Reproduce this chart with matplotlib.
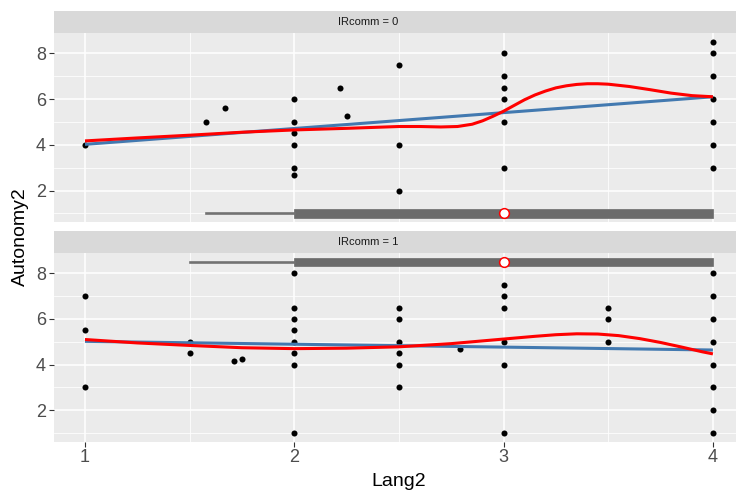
import matplotlib
matplotlib.use("Agg")
import matplotlib.pyplot as plt
import numpy as np

plt.rcParams['font.family'] = ['Liberation Sans', 'DejaVu Sans']

# ---------------- data ----------------
panel_labels = ["IRcomm = 0", "IRcomm = 1"]

top_x = [1, 1.58, 1.67, 2, 2, 2, 2, 2, 2, 2.22, 2.25, 2.5, 2.5, 2.5,
         3, 3, 3, 3, 3, 3, 4, 4, 4, 4, 4, 4, 4]
top_y = [4, 5, 5.6, 6, 5, 4.5, 4, 3, 2.67, 6.5, 5.25, 7.5, 4, 2,
         8, 7, 6.5, 6, 5, 3, 8.5, 8, 7, 6, 5, 4, 3]

bot_x = [1, 1, 1, 1.5, 1.5, 1.71, 1.75,
         2, 2, 2, 2, 2, 2, 2, 2,
         2.5, 2.5, 2.5, 2.5, 2.5, 2.5, 2.79,
         3, 3, 3, 3, 3, 3, 3.5, 3.5, 3.5,
         4, 4, 4, 4, 4, 4, 4, 4]
bot_y = [7, 5.5, 3, 5, 4.5, 4.17, 4.25,
         8, 6.5, 6, 5.5, 5, 4.5, 4, 1,
         6.5, 6, 5, 4.5, 4, 3, 4.7,
         7.5, 7, 6.5, 5, 4, 1, 6.5, 6, 5,
         8, 7, 6, 5, 4, 3, 2, 1]

# linear fits (endpoints)
lm_x = [1, 4]
top_lm_y = [4.02, 6.1]
bot_lm_y = [5.02, 4.64]

# loess curves
top_smooth_x = [1, 1.25, 1.5, 1.75, 2, 2.25, 2.5, 2.6, 2.7, 2.78, 2.85, 2.9, 2.95,
                3, 3.05, 3.1, 3.15, 3.2, 3.25, 3.3, 3.35, 3.4, 3.45, 3.5, 3.6,
                3.7, 3.8, 3.9, 4]
top_smooth_y = [4.17, 4.3, 4.42, 4.55, 4.65, 4.72, 4.8, 4.8, 4.78, 4.8, 4.9,
                5.05, 5.25, 5.47, 5.72, 5.97, 6.18, 6.35, 6.49, 6.58, 6.64, 6.67,
                6.67, 6.65, 6.55, 6.41, 6.26, 6.15, 6.1]
bot_smooth_x = [1, 1.25, 1.5, 1.75, 2, 2.25, 2.5, 2.75, 3, 3.15, 3.25, 3.35, 3.45,
                3.55, 3.65, 3.75, 3.85, 3.95, 4]
bot_smooth_y = [5.1, 4.95, 4.84, 4.74, 4.7, 4.72, 4.78, 4.92, 5.12, 5.24, 5.31,
                5.35, 5.34, 5.27, 5.14, 4.97, 4.77, 4.56, 4.47]

# marginal boxplot stats of Lang2 per panel
box_whislo = [1.58, 1.5]
box_q1 = [2, 2]
box_med = [3, 3]
box_q3 = [4, 4]
box_whishi = [4, 4]
box_ypos = [1.0, 8.5]

x_ticks = [1, 2, 3, 4]
y_ticks = [2, 4, 6, 8]

# ---------------- figure ----------------
W, H = 736, 492
fig = plt.figure(figsize=(W / 100, H / 100), dpi=100)

def fr(left, top, right, bottom):
    return [left / W, 1 - bottom / H, (right - left) / W, (bottom - top) / H]

panel_rects = [fr(53.6, 33.3, 744.3, 222), fr(53.6, 253.3, 744.3, 441.7)]
strip_rects = [fr(53.6, 10.7, 744.3, 33.3), fr(53.6, 230.7, 744.3, 253.3)]

xs = [top_x, bot_x]
ys = [top_y, bot_y]
lms = [top_lm_y, bot_lm_y]
smx = [top_smooth_x, bot_smooth_x]
smy = [top_smooth_y, bot_smooth_y]

for i in range(2):
    ax = fig.add_axes(panel_rects[i])
    ax.set_facecolor('#EBEBEB')
    for s in ax.spines.values():
        s.set_visible(False)
    ax.set_xticks([1.5, 2.5, 3.5], minor=True)
    ax.set_yticks([1, 3, 5, 7], minor=True)
    ax.grid(which='major', color='white', linewidth=1.1)
    ax.grid(which='minor', color='white', linewidth=0.55)
    ax.set_axisbelow(True)
    ax.tick_params(axis='both', which='major', length=3.5, width=0.8,
                   color='#333333', labelsize=13, labelcolor='#4D4D4D', pad=2)
    ax.tick_params(which='minor', length=0)
    if i == 0:
        ax.tick_params(axis='x', which='major', length=0, labelbottom=False)

    ax.scatter(xs[i], ys[i], s=19, color='black', zorder=3, linewidths=0)
    ax.plot(lm_x, lms[i], color='#4279B0', linewidth=2.2, zorder=4,
            solid_capstyle='butt')
    ax.plot(smx[i], smy[i], color='red', linewidth=2.2, zorder=5,
            solid_capstyle='butt', solid_joinstyle='round')

    stats = [dict(whislo=box_whislo[i], q1=box_q1[i], med=box_med[i],
                  q3=box_q3[i], whishi=box_whishi[i], fliers=[])]
    ax.bxp(stats, positions=[box_ypos[i]], widths=0.37, orientation='horizontal',
           patch_artist=True, showcaps=False, showfliers=False,
           boxprops=dict(facecolor='#6B6B6B', edgecolor='#6B6B6B', linewidth=0.5),
           whiskerprops=dict(color='#727272', linewidth=1.9),
           medianprops=dict(color='#6B6B6B', linewidth=0), manage_ticks=False,
           zorder=6)
    ax.plot([box_med[i]], [box_ypos[i]], marker='o', markersize=7,
            markerfacecolor='white', markeredgecolor='red',
            markeredgewidth=1.1, zorder=7, linestyle='none')
    ax.set_xlim(0.85, 4.15)
    ax.set_ylim(0.625, 8.875)
    ax.set_xticks(x_ticks)
    ax.set_yticks(y_ticks)

    sax = fig.add_axes(strip_rects[i])
    sax.set_facecolor('#D9D9D9')
    sax.set_xticks([]); sax.set_yticks([])
    for s in sax.spines.values():
        s.set_visible(False)
    sax.text((368 - 53.6) / (744.3 - 53.6), 0.5, panel_labels[i],
             transform=sax.transAxes, ha='center', va='center',
             fontsize=8, color='#1A1A1A')

fig.text(20 / W, 1 - 237 / H, 'Autonomy2', rotation=90, ha='center',
         va='center', fontsize=14, color='black')
fig.text(399 / W, 1 - 481 / H, 'Lang2', ha='center', va='center',
         fontsize=14, color='black')

fig.savefig('out.png', dpi=100)
